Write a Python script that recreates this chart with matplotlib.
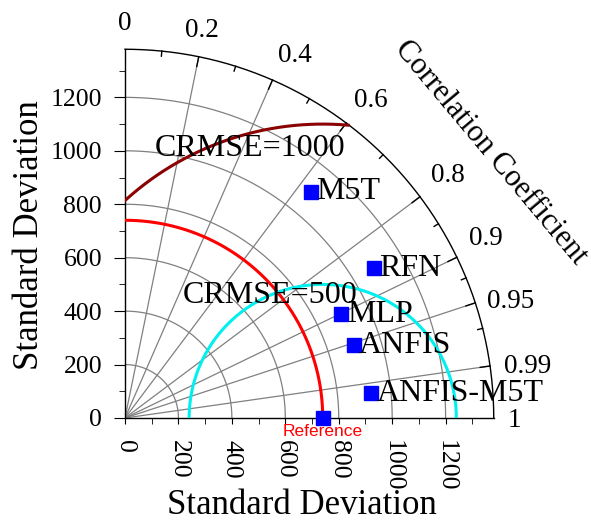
import numpy as np
import matplotlib.pyplot as plt

plt.rcParams['font.family'] = ['Liberation Serif', 'DejaVu Serif']

# reference (observed) std dev
ref_std = 740

# models: std dev and correlation with reference
models = ['M5T', 'RFN', 'MLP', 'ANFIS', 'ANFIS-M5T']
std = [1096, 1088, 898, 898, 926]
corr = [0.634, 0.857, 0.902, 0.953, 0.995]

# centred RMS contours drawn around the reference point
crmse_radius = [500, 1100]
crmse_text = ['CRMSE=500', 'CRMSE=1000']
crmse_colors = ['#00f0f0', '#8b0000']
crmse_label_xy = [(543, 457), (468, 1010)]

# correlation axis
corr_rays = [0.2, 0.4, 0.6, 0.8, 0.9, 0.95, 0.99]
corr_minor = [0.1, 0.3, 0.5, 0.7, 0.85, 0.925, 0.97]
corr_labels = ['0', '0.2', '0.4', '0.6', '0.8', '0.9', '0.95', '0.99', '1']
# where each label sits (centre x, baseline y) in data units
corr_label_xy = [(0, 1452), (288, 1426), (636, 1332), (922, 1164), (1207, 883),
                 (1351, 647), (1443, 412), (1506, 168), (1456, -34)]

R = 1380           # outer radius
sd_ticks = [0, 200, 400, 600, 800, 1000, 1200]
sd_minor = [100, 300, 500, 700, 900, 1100, 1300]
grid_r = [200, 400, 600, 800, 1000, 1200]

fig = plt.figure(figsize=(5.91, 5.22), dpi=100)
px = 0.2672  # pixels per unit
ax = fig.add_axes([125 / 591, 104 / 522, R * px / 591, R * px / 522])
ax.set_xlim(0, R)
ax.set_ylim(0, R)
ax.spines['top'].set_visible(False)
ax.spines['right'].set_visible(False)
ax.spines['left'].set_linewidth(1.0)
ax.spines['bottom'].set_linewidth(1.0)

ax.set_xticks(sd_ticks)
ax.set_xticks(sd_minor, minor=True)
ax.set_xticklabels([str(v) for v in sd_ticks], rotation=-90, fontsize=18.5)
ax.set_yticks(sd_ticks)
ax.set_yticks(sd_minor, minor=True)
ax.set_yticklabels([str(v) for v in sd_ticks], fontsize=18.5)
ax.tick_params(axis='x', which='both', direction='out', length=4.5, pad=11)
ax.tick_params(axis='y', which='major', direction='out', length=8, pad=8.5)
ax.tick_params(axis='y', which='minor', direction='out', length=4)

t = np.linspace(0, np.pi / 2, 300)

# grey std circles
for r in grid_r:
    ax.plot(r * np.cos(t), r * np.sin(t), color='#808080', lw=0.9, zorder=1)

# grey correlation rays + ticks on the outer arc
for c in corr_rays:
    a = np.arccos(c)
    ax.plot([0, R * np.cos(a)], [0, R * np.sin(a)], color='#808080', lw=0.9, zorder=1)
    ax.plot([(R - 37) * np.cos(a), R * np.cos(a)], [(R - 37) * np.sin(a), R * np.sin(a)],
            color='black', lw=1.0, zorder=2)
for c in corr_minor:
    a = np.arccos(c)
    ax.plot([(R - 19) * np.cos(a), R * np.cos(a)], [(R - 19) * np.sin(a), R * np.sin(a)],
            color='black', lw=1.0, zorder=2)

# outer arc
ax.plot(R * np.cos(t), R * np.sin(t), color='black', lw=1.0, zorder=2, clip_on=False)

# correlation labels
for lab, (lx, ly) in zip(corr_labels, corr_label_xy):
    ax.text(lx, ly, lab, fontsize=19.5, ha='center', va='baseline')

ang = np.radians(36)
ax.text(1690 * np.cos(ang), 1690 * np.sin(ang), 'Correlation Coefficient', fontsize=22,
        rotation=-50, rotation_mode='anchor', ha='center', va='center')

# reference std arc
ax.plot(ref_std * np.cos(t), ref_std * np.sin(t), color='red', lw=2.2, zorder=3)

# CRMSE contours
tt = np.linspace(0, np.pi, 600)
for rad, txt, col, (lx, ly) in zip(crmse_radius, crmse_text, crmse_colors, crmse_label_xy):
    cx = ref_std + rad * np.cos(tt)
    cy = rad * np.sin(tt)
    ok = (cx >= 0) & (np.hypot(cx, cy) <= R)
    cx = np.where(ok, cx, np.nan)
    cy = np.where(ok, cy, np.nan)
    ax.plot(cx, cy, color=col, lw=2.2, zorder=3)
    ax.text(lx, ly, txt, fontsize=23, ha='center', va='center', zorder=5)

# model points
for name, s, c in zip(models, std, corr):
    x = s * c
    y = s * np.sqrt(1 - c ** 2)
    ax.plot(x, y, 's', color='blue', markersize=9.4, zorder=6)
    ax.text(x + 20, y, name, fontsize=23, ha='left', va='center', zorder=6)

# reference point
ax.plot(ref_std, 0, 's', color='blue', markersize=9.4, zorder=6, clip_on=False)
ax.text(ref_std, -52, 'Reference', color='red', fontsize=12.5, family='Liberation Sans',
        ha='center', va='center')

fig.text(302 / 591, 8.5 / 522, 'Standard Deviation', fontsize=25, ha='center', va='baseline')
fig.text(38 / 591, (522 - 235) / 522, 'Standard Deviation', fontsize=25, rotation=90,
         rotation_mode='anchor', ha='center', va='baseline')

fig.savefig('out.png', dpi=100)
